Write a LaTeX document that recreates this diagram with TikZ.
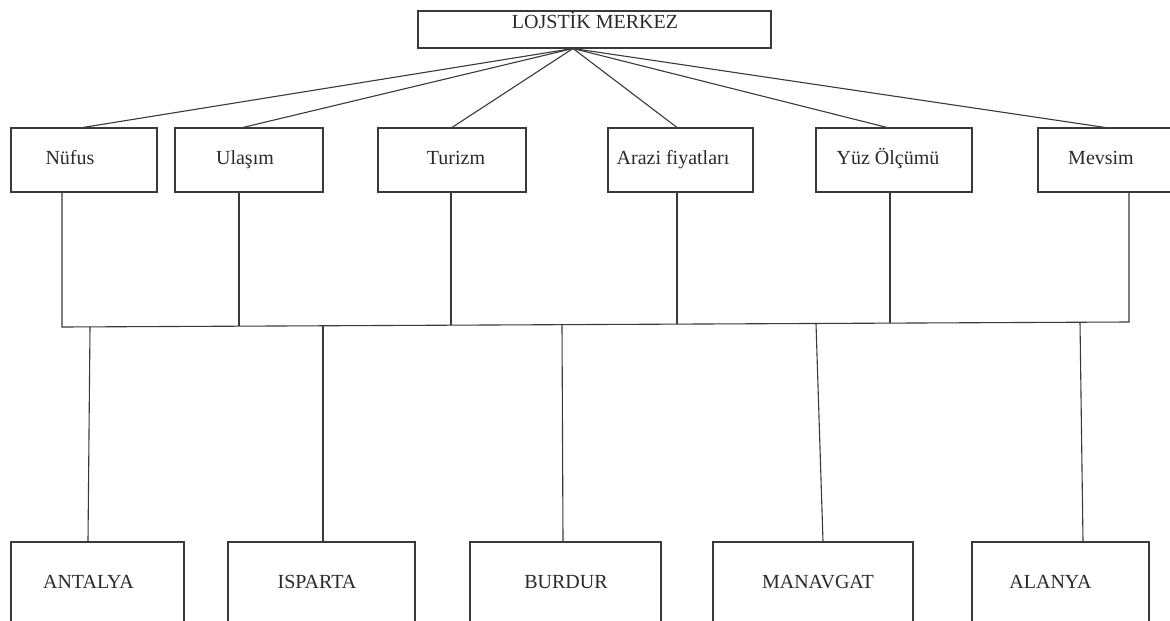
\documentclass[tikz,border=0pt]{standalone}
\usepackage{fontspec}
\setmainfont{Liberation Serif}
\usetikzlibrary{calc}
\definecolor{ln}{HTML}{3A3A3A}
\definecolor{tx}{HTML}{2A2A2A}
\tikzset{
  box/.style={draw=ln, line width=1.1pt, rectangle, inner sep=0pt, fill=none},
  lbl/.style={anchor=base, inner sep=0pt, text=tx, font=\fontsize{20}{24}\selectfont},
  conn/.style={draw=ln, line width=1.1pt},
}
\begin{document}
\begin{tikzpicture}[x=1pt, y=-1pt]
\useasboundingbox (0,0) rectangle (1170,621);
\clip (0,0) rectangle (1170,621);
\fill[white] (0,0) rectangle (1170,621);
% top
\node[box, minimum width=353pt, minimum height=37pt] (top) at (594.5,29.5) {};
\node[lbl] (topT) at (595,28.5) {LOJSTİK MERKEZ};
\coordinate (apex) at (573,48.5);
% second row
\node[box, minimum width=146pt, minimum height=64pt] (nufus) at (84,160) {};
\node[box, minimum width=148pt, minimum height=64pt] (ulasim) at (249,160) {};
\node[box, minimum width=148pt, minimum height=64pt] (turizm) at (452,160) {};
\node[box, minimum width=145pt, minimum height=64pt] (arazi) at (680.5,160) {};
\node[box, minimum width=156pt, minimum height=64pt] (yuz) at (894,160) {};
\node[box, minimum width=142pt, minimum height=64pt] (mevsim) at (1109,160) {};
\node[lbl] (nufusT) at (70,164.5) {Nüfus};
\node[lbl] (ulasimT) at (245,164.5) {Ulaşım};
\node[lbl] (turizmT) at (456,164.5) {Turizm};
\node[lbl] (araziT) at (673,164.5) {Arazi fiyatları};
\node[lbl] (yuzT) at (888,164.5) {Yüz Ölçümü};
\node[lbl] (mevsimT) at (1101,164.5) {Mevsim};
% bottom row
\node[box, minimum width=173pt, minimum height=108pt] (antalya) at (97.5,596) {};
\node[box, minimum width=187pt, minimum height=108pt] (isparta) at (321.5,596) {};
\node[box, minimum width=191pt, minimum height=108pt] (burdur) at (565.5,596) {};
\node[box, minimum width=200pt, minimum height=108pt] (manavgat) at (813,596) {};
\node[box, minimum width=177pt, minimum height=108pt] (alanya) at (1060.5,596) {};
\node[lbl] (antalyaT) at (88.5,588.5) {ANTALYA};
\node[lbl] (ispartaT) at (317,588.5) {ISPARTA};
\node[lbl] (burdurT) at (566,588.5) {BURDUR};
\node[lbl] (manavgatT) at (818,588.5) {MANAVGAT};
\node[lbl] (alanyaT) at (1050.5,588.5) {ALANYA};
% top fan
\draw[conn] (apex) -- ($(nufus.north)+(-1,0)$);
\draw[conn] (apex) -- ($(ulasim.north)+(-6,0)$);
\draw[conn] (apex) -- (turizm.north);
\draw[conn] (apex) -- ($(arazi.north)+(-3.5,0)$);
\draw[conn] (apex) -- ($(yuz.north)+(-7,0)$);
\draw[conn] (apex) -- ($(mevsim.north)+(-4,0)$);
% bus
\coordinate (busL) at (62,327);
\coordinate (busR) at (1129,322);
\draw[conn] ($(nufus.south)+(-22,0)$) -- (busL) -- (busR) -- ($(mevsim.south)+(20,0)$);
\coordinate (b2) at (239,326.2);
\coordinate (b3) at (451,325.2);
\coordinate (b4) at (677,324.1);
\coordinate (b5) at (890,323.1);
\draw[conn] ($(ulasim.south)+(-10,0)$) -- (b2);
\draw[conn] ($(turizm.south)+(-1,0)$) -- (b3);
\draw[conn] ($(arazi.south)+(-3.5,0)$) -- (b4);
\draw[conn] ($(yuz.south)+(-4,0)$) -- (b5);
% drops to cities
\coordinate (c1) at (90,326.9);
\coordinate (c2) at (323,325.8);
\coordinate (c3) at (562,324.7);
\coordinate (c4) at (816,323.5);
\coordinate (c5) at (1080,322.2);
\draw[conn] (c1) -- ($(antalya.north)+(-9.5,0)$);
\draw[conn] (c2) -- ($(isparta.north)+(1.5,0)$);
\draw[conn] (c3) -- ($(burdur.north)+(-2.5,0)$);
\draw[conn] (c4) -- ($(manavgat.north)+(10,0)$);
\draw[conn] (c5) -- ($(alanya.north)+(22.5,0)$);
\end{tikzpicture}
\end{document}
